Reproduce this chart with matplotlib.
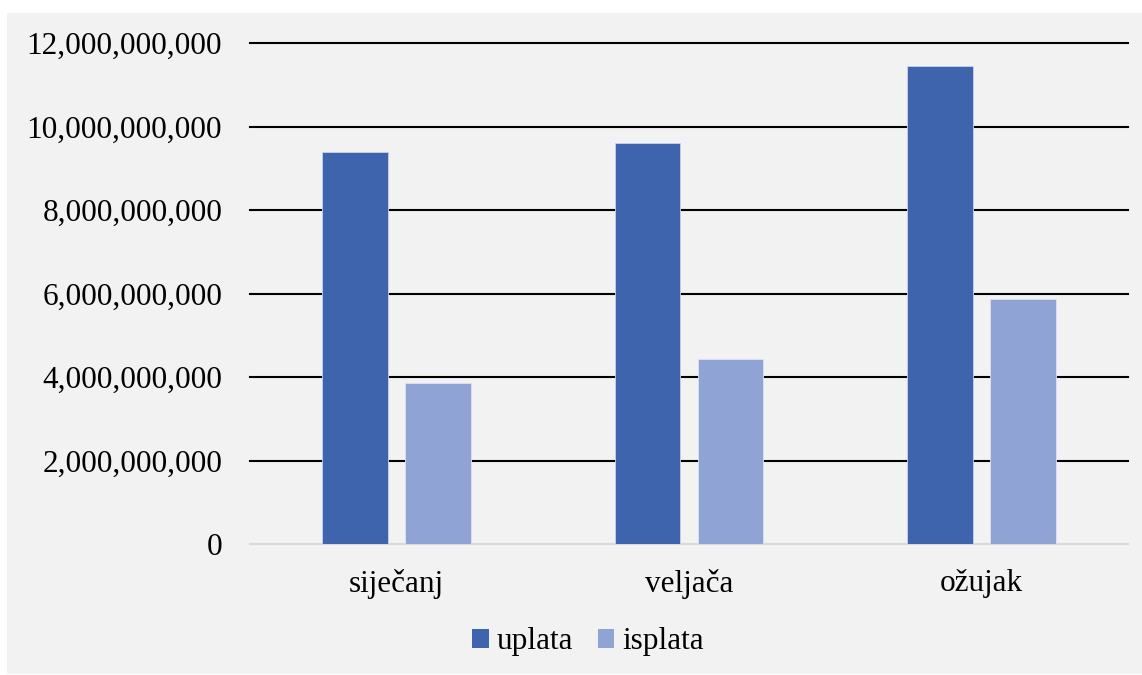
import numpy as np
import matplotlib.pyplot as plt
from matplotlib.patches import Rectangle, Patch
from matplotlib.ticker import FuncFormatter

# podaci
mjeseci = ['siječanj', 'veljača', 'ožujak']
uplata = [9.39e9, 9.60e9, 11.45e9]
isplata = [3.86e9, 4.43e9, 5.87e9]
y_ticks = [0, 2e9, 4e9, 6e9, 8e9, 10e9, 12e9]

boja_uplata = '#3d64ad'
boja_isplata = '#8fa4d5'

plt.rcParams['font.family'] = ['Liberation Serif', 'DejaVu Serif']

fig = plt.figure(figsize=(11.42, 6.75), dpi=100, facecolor='white')
# sivi okvir grafa
fig.patches.append(Rectangle((7 / 1142, 1 / 675), 1 - 7 / 1142, 1 - 14 / 675,
                             transform=fig.transFigure, facecolor='#f2f2f2',
                             edgecolor='none', zorder=-10))

ax = fig.add_axes([250 / 1142, 1 - 544 / 675, 878 / 1142, 501 / 675])
ax.set_facecolor('none')
ax.set_zorder(1)

x = np.arange(len(mjeseci))
w = 0.2255
off = 0.1418
ax.bar(x - off, uplata, w, color=boja_uplata, edgecolor='#c9d3ea', linewidth=0.6, zorder=3)
ax.bar(x + off, isplata, w, color=boja_isplata, edgecolor='#dde3f2', linewidth=0.6, zorder=3)

ax.set_xlim(-0.5, 2.5)
ax.set_ylim(0, 12e9)
ax.set_yticks(y_ticks)
ax.yaxis.set_major_formatter(FuncFormatter(lambda v, p: f'{int(v):,}'))
ax.set_xticks(x)
ax.set_xticklabels(mjeseci)

for v in y_ticks[1:]:
    ax.axhline(v, color='black', linewidth=1.5, zorder=2, clip_on=False)
ax.axhline(0, color='#d9d9d9', linewidth=1.5, zorder=2, clip_on=False)

for s in ax.spines.values():
    s.set_visible(False)
ax.tick_params(axis='both', length=0, labelsize=22.5, colors='black')
ax.tick_params(axis='y', pad=20)
ax.tick_params(axis='x', pad=18)

handles = [Patch(facecolor=boja_uplata, label='uplata'),
           Patch(facecolor=boja_isplata, label='isplata')]
fig.legend(handles=handles, loc='center', bbox_to_anchor=(588 / 1142, 1 - 642 / 675),
           ncol=2, frameon=False, fontsize=22.5, handlelength=0.52, handleheight=0.52,
           handletextpad=0.25, columnspacing=0.8)

fig.savefig('out.png', dpi=100, facecolor='white')
